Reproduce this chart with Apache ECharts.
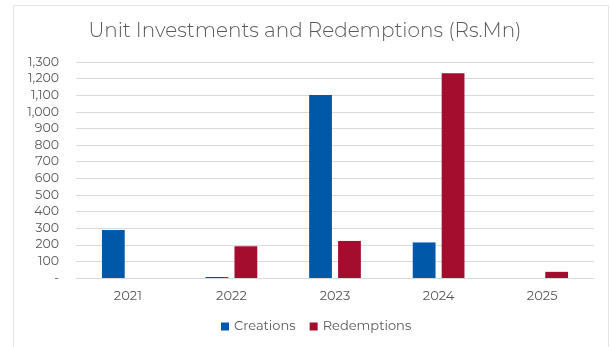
<!DOCTYPE html>
<html><head><meta charset="utf-8">
<script src="https://cdn.jsdelivr.net/npm/echarts@6/dist/echarts.min.js"></script>
<style>html,body{margin:0;padding:0;background:#fff}#c{width:610px;height:347px}</style>
</head><body><div id="c"></div>
<script>
var categories = ['2021','2022','2023','2024','2025'];
var creations = [289, 6, 1102, 214, 0];
var redemptions = [0, 191, 223, 1233, 37];
var yTicks = [0,100,200,300,400,500,600,700,800,900,1000,1100,1200,1300];

var chart = echarts.init(document.getElementById('c'), null, {renderer:'canvas'});
var font = 'Montserrat, "Noto Sans", "Open Sans", sans-serif';
chart.setOption({
  animation:false,
  backgroundColor:'#fff',
  graphic:[{type:'rect', shape:{x:13.5,y:5.5,width:595,height:350}, style:{fill:'none', stroke:'#e4e4e4', lineWidth:1}, silent:true}],
  title:{text:'Unit Investments and Redemptions (Rs.Mn)', left:'center', top:16,
    textStyle:{fontFamily:font, fontSize:20, fontWeight:300, color:'#595959'}},
  grid:{left:76, right:16, top:62, bottom:69},
  legend:{bottom:9, left:216, itemWidth:8, itemHeight:8, itemGap:14, icon:'rect',
    textStyle:{fontFamily:font, fontSize:13, color:'#595959'},
    data:['Creations','Redemptions']},
  xAxis:{type:'category', data:categories,
    axisLine:{show:true, lineStyle:{color:'#d9d9d9'}}, axisTick:{show:false},
    axisLabel:{fontFamily:font, fontSize:13, color:'#595959', margin:12}},
  yAxis:{type:'value', min:0, max:1300, interval:100,
    axisLine:{show:false}, axisTick:{show:false},
    splitLine:{lineStyle:{color:'#d9d9d9'}},
    axisLabel:{fontFamily:font, fontSize:12.5, color:'#595959', margin:17,
      formatter:function(v){ return v===0 ? '-' : v.toLocaleString('en-US'); }}},
  series:[
    {name:'Creations', type:'bar', data:creations, barWidth:'22%', barGap:'27%', itemStyle:{color:'#0058A9'}},
    {name:'Redemptions', type:'bar', data:redemptions, barWidth:'22%', itemStyle:{color:'#A50D2F'}}
  ]
});
</script></body></html>
